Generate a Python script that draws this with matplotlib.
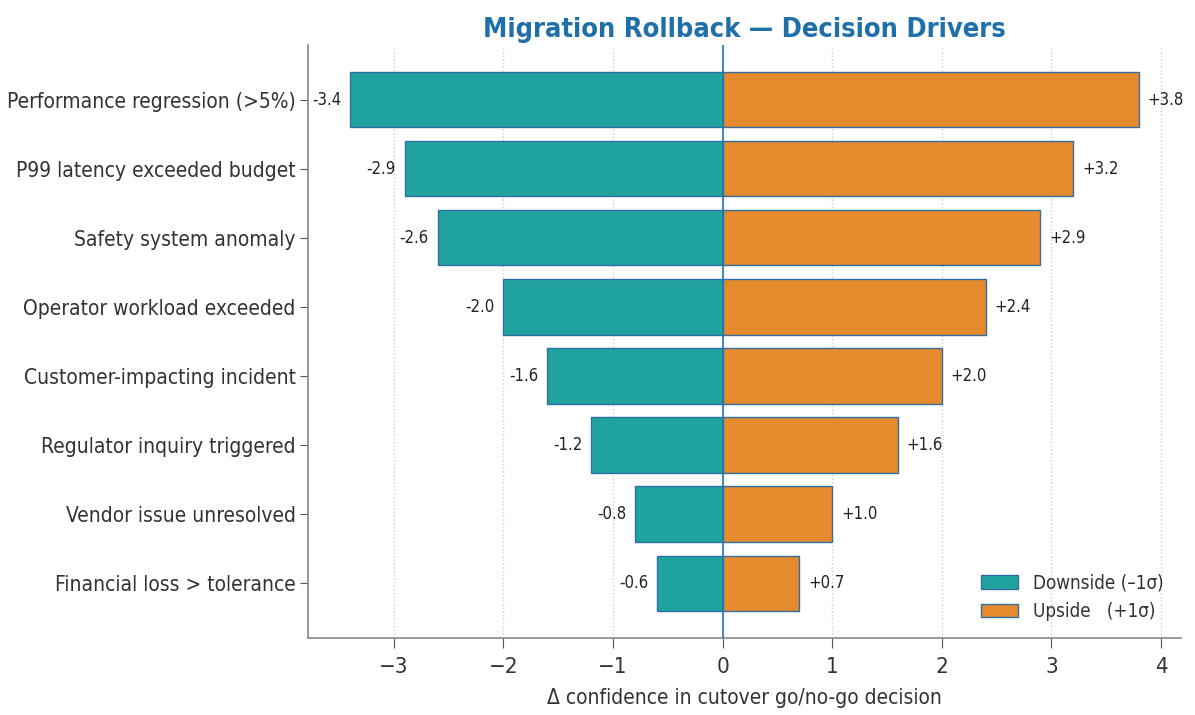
import matplotlib
matplotlib.use("Agg")
import matplotlib.pyplot as plt

drivers = [
    "Performance regression (>5%)",
    "P99 latency exceeded budget",
    "Safety system anomaly",
    "Operator workload exceeded",
    "Customer-impacting incident",
    "Regulator inquiry triggered",
    "Vendor issue unresolved",
    "Financial loss > tolerance",
]
downside = [-3.4, -2.9, -2.6, -2.0, -1.6, -1.2, -0.8, -0.6]
upside = [3.8, 3.2, 2.9, 2.4, 2.0, 1.6, 1.0, 0.7]

plt.rcParams['font.family'] = ['DejaVu Sans']
plt.rcParams['font.stretch'] = 'condensed'
plt.rcParams['text.color'] = '#333333'
plt.rcParams['axes.labelcolor'] = '#333333'
plt.rcParams['xtick.color'] = '#333333'
plt.rcParams['ytick.color'] = '#333333'

fig, ax = plt.subplots(figsize=(11.95, 7.15), dpi=100)
y = list(range(len(drivers)))

ax.barh(y, downside, height=0.8, color="#20a39e", edgecolor="#2f6fa5", linewidth=1.0,
        label="Downside (\u20131\u03c3)", zorder=2)
ax.barh(y, upside, height=0.8, color="#e68a2e", edgecolor="#2f6fa5", linewidth=1.0,
        label="Upside   (+1\u03c3)", zorder=2)
ax.axvline(0, color="#1f77b4", linewidth=1.2, zorder=3)

for yi, d, u in zip(y, downside, upside):
    ax.text(d - 0.08, yi, f"{d:.1f}", ha="right", va="center", fontsize=12, color="#222222")
    ax.text(u + 0.08, yi, f"+{u:.1f}", ha="left", va="center", fontsize=12, color="#222222")

ax.set_yticks(y)
ax.set_yticklabels(drivers, fontsize=15)
ax.invert_yaxis()
ax.set_xlim(-3.78, 4.18)
ax.tick_params(axis="x", labelsize=16, length=7, pad=7, color="#555555")
ax.tick_params(axis="y", length=6, pad=3, color="#555555")
ax.set_xlabel("\u0394 confidence in cutover go/no-go decision", fontsize=15, labelpad=8)
ax.set_title("Migration Rollback \u2014 Decision Drivers", fontsize=19.5, fontweight="bold",
             color="#1f6fa8", pad=6)
ax.grid(axis="x", linestyle=":", color="#cccccc", linewidth=1, zorder=0)
ax.set_axisbelow(True)
for s in ["top", "right"]:
    ax.spines[s].set_visible(False)
for s in ["left", "bottom"]:
    ax.spines[s].set_color("#888888")
    ax.spines[s].set_linewidth(1.2)
ax.legend(loc="lower right", frameon=False, fontsize=13.5, bbox_to_anchor=(1.0, 0.0))

plt.subplots_adjust(left=0.258, right=0.988, top=0.937, bottom=0.108)
plt.savefig("out.png")
